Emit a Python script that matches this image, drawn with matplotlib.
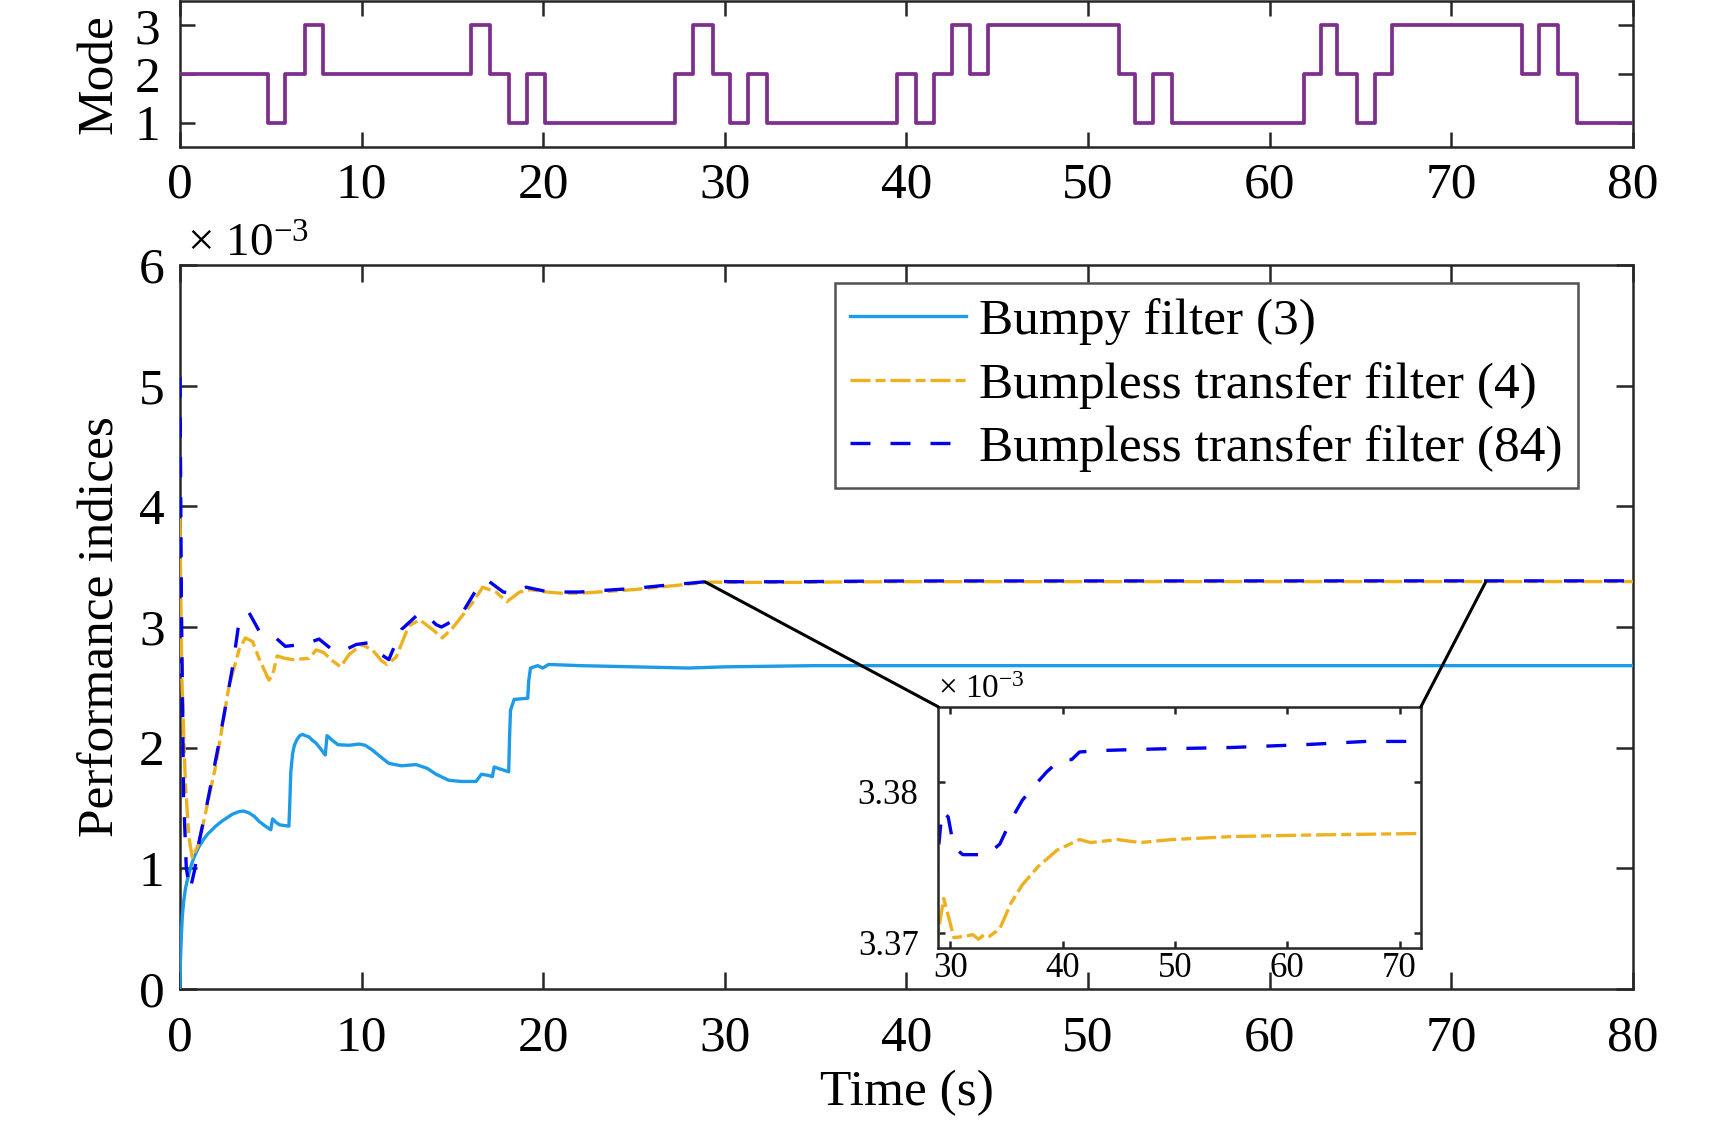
import matplotlib
matplotlib.use("Agg")
import matplotlib.pyplot as plt
import matplotlib.transforms as mtransforms
from matplotlib.patches import ConnectionPatch
import numpy as np

# ---- data (performance indices are in units of 1e-3) ----
mode_t = [0, 4.85, 5.8, 6.9, 7.9, 16.05, 17.05, 18.1, 19.1, 20.1, 27.25, 28.25, 29.35,
          30.3, 31.3, 32.3, 39.5, 40.55, 41.5, 42.5, 43.5, 44.5, 51.7, 52.6, 53.6,
          54.6, 61.9, 62.8, 63.7, 64.8, 65.8, 66.75, 73.9, 74.85, 75.9, 76.9, 80]
mode_val = [2, 1, 2, 3, 2, 3, 2, 1, 2, 1, 2, 3, 2,
            1, 2, 1, 2, 1, 2, 3, 2, 3, 2, 1, 2,
            1, 2, 3, 2, 1, 2, 3, 2, 3, 2, 1, 1]

bumpy_t = [0, 0.03, 0.08, 0.13, 0.2, 0.3, 0.4, 0.5, 0.65, 0.8, 1.05, 1.3, 1.5, 1.97,
           2.3, 2.6, 2.9, 3.25, 3.5, 3.8, 4.1, 4.35, 4.7, 5.0, 5.1, 5.3, 5.5, 6.0,
           6.05, 6.1, 6.2, 6.3, 6.45, 6.6, 6.74, 6.9, 7.1, 7.3, 7.48, 7.75, 8.0, 8.1,
           8.4, 8.7, 9.3, 9.87, 10.2, 10.6, 11.0, 11.5, 12.2, 13.0, 13.6, 14.1, 14.8,
           15.5, 16.1, 16.3, 16.6, 17.0, 17.2, 17.3, 17.7, 18.1, 18.15, 18.2, 18.4,
           19.15, 19.2, 19.3, 19.7, 19.97, 20.3, 22, 25, 28, 30, 35, 40, 50, 80]
bumpy_val = [0, 0.25, 0.45, 0.6, 0.72, 0.83, 0.9, 0.96, 1.04, 1.1, 1.18, 1.24, 1.28,
             1.35, 1.39, 1.42, 1.45, 1.47, 1.475, 1.46, 1.43, 1.39, 1.35, 1.32, 1.41,
             1.38, 1.36, 1.35, 1.55, 1.79, 1.95, 2.02, 2.07, 2.10, 2.11, 2.10, 2.09,
             2.06, 2.04, 1.99, 1.94, 2.10, 2.06, 2.025, 2.02, 2.03, 2.02, 1.98, 1.93,
             1.87, 1.85, 1.86, 1.83, 1.78, 1.73, 1.72, 1.72, 1.72, 1.78, 1.77, 1.76,
             1.84, 1.82, 1.80, 2.1, 2.31, 2.40, 2.41, 2.55, 2.66, 2.68, 2.66, 2.69,
             2.68, 2.67, 2.66, 2.67, 2.68, 2.68, 2.68, 2.68]

bt4_t = [0, 0.1, 0.3, 0.5, 0.68, 1.05, 1.97, 2.7, 3.25, 3.6, 4.0, 4.35, 4.9, 5.1,
         5.35, 5.8, 6.2, 7.1, 7.5, 7.9, 8.4, 8.85, 9.3, 10.0, 10.6, 11.1, 11.4, 11.9,
         12.6, 13.2, 13.9, 14.45, 15.0, 16.1, 16.67, 17.4, 18.0, 18.7, 19.3, 20.2,
         21, 22, 23, 25, 27, 28.3, 28.9, 29.4, 29.9, 30.3, 31.3, 32.0, 32.5, 33.0,
         33.5, 34.4, 35.4, 36.4, 37.8, 39.5, 41.5, 42.5, 44.9, 46.9, 49.7, 55.1,
         61.9, 71.8, 80]
bt4_val = [3.9, 2.6, 1.7, 1.25, 1.09, 1.21, 1.85, 2.51, 2.81, 2.91, 2.88, 2.74, 2.56,
           2.60, 2.76, 2.74, 2.73, 2.74, 2.81, 2.79, 2.72, 2.67, 2.77, 2.855, 2.81,
           2.72, 2.69, 2.75, 3.01, 3.06, 2.98, 2.91, 2.99, 3.20, 3.33, 3.29, 3.21,
           3.29, 3.31, 3.29, 3.28, 3.28, 3.29, 3.31, 3.34, 3.36, 3.3700, 3.3723,
           3.3709, 3.3697, 3.3698, 3.3699, 3.3696, 3.3699, 3.3698, 3.3703, 3.3720,
           3.3732, 3.3744, 3.3755, 3.3762, 3.3760, 3.3762, 3.3760, 3.3762, 3.3764,
           3.3765, 3.3766, 3.3766]

bt84_t = [0, 0.08, 0.2, 0.35, 0.55, 0.8, 1.05, 1.5, 2.15, 2.9, 3.25, 3.8, 4.35, 5.2,
          5.8, 6.4, 7.1, 7.66, 8.4, 8.95, 9.7, 10.4, 11.1, 11.5, 12.2, 13.0, 13.5,
          14.1, 14.4, 15.0, 15.56, 16.2, 16.67, 17.0, 17.8, 18.3, 19.06, 20, 21, 22,
          23, 25, 27, 28.3, 28.9, 29.25, 29.8, 30.3, 31.1, 33.3, 34.4, 35.4, 36.4,
          37.4, 38.6, 39.8, 40.8, 41.5, 43.5, 48.3, 55.1, 61.9, 67.0, 70.9, 80]
bt84_val = [5.07, 3.2, 1.6, 1.0, 0.82, 0.98, 1.22, 1.54, 2.04, 2.67, 3.04, 3.12, 2.97,
            2.92, 2.84, 2.85, 2.87, 2.90, 2.81, 2.80, 2.855, 2.87, 2.77, 2.73, 2.98,
            3.09, 3.11, 3.02, 3.0, 3.05, 3.12, 3.28, 3.37, 3.38, 3.29, 3.28, 3.33,
            3.30, 3.29, 3.29, 3.30, 3.32, 3.35, 3.366, 3.3753, 3.3781, 3.3777, 3.3757,
            3.3752, 3.3752, 3.3759, 3.3775, 3.3788, 3.3797, 3.3807, 3.3815, 3.3815,
            3.3820, 3.3821, 3.3822, 3.3823, 3.3825, 3.3827, 3.3827, 3.3828]

labels = ['Bumpy filter (3)', 'Bumpless transfer filter (4)',
          'Bumpless transfer filter (84)']

# ---- style ----
plt.rcParams['font.family'] = 'Liberation Serif'
plt.rcParams['mathtext.fontset'] = 'custom'
plt.rcParams['mathtext.rm'] = 'Liberation Serif'
plt.rcParams['mathtext.it'] = 'Liberation Serif:italic'
plt.rcParams['axes.linewidth'] = 1.8
plt.rcParams['axes.edgecolor'] = '#262626'

FS = 37
c_bumpy = '#1E9BE8'
c_bt4 = '#EDB120'
c_bt84 = '#0000F0'
c_mode = '#7E2F8E'
lw = 2.4
ls_bt4 = (0, (6, 1.5, 3, 1.5))
ls_bt84 = (0, (6, 6))

fig = plt.figure(figsize=(17.32, 11.23), dpi=100)

def style(ax, size, ticklen, xpad, ypad):
    ax.tick_params(direction='in', top=True, right=True, labelsize=size,
                   length=ticklen, width=1.8, color='#262626')
    ax.tick_params(axis='x', pad=xpad)
    ax.tick_params(axis='y', pad=ypad)

# top panel: mode
ax_m = fig.add_axes([0.1039, 0.8691, 0.8389, 0.1300])
ax_m.plot(mode_t, mode_val, drawstyle='steps-post', color=c_mode, lw=2.7, zorder=3)
ax_m.set_xlim(0, 80)
ax_m.set_ylim(0.5, 3.5)
ax_m.set_xticks(np.arange(0, 81, 10))
ax_m.set_yticks([1, 2, 3])
style(ax_m, FS, 11, 11, 14)
ax_m.set_ylabel('Mode', fontsize=FS)
ax_m.yaxis.set_label_coords(-0.039, 0.5)

# main panel
ax = fig.add_axes([0.1039, 0.1193, 0.8389, 0.6447])
ax.plot(bumpy_t, bumpy_val, color=c_bumpy, lw=lw, label=labels[0], zorder=3)
ax.plot(bt4_t, bt4_val, color=c_bt4, lw=lw, ls=ls_bt4, label=labels[1], zorder=3)
ax.plot(bt84_t, bt84_val, color=c_bt84, lw=lw, ls=ls_bt84, label=labels[2], zorder=3)
ax.set_xlim(0, 80)
ax.set_ylim(0, 6)
ax.set_xticks(np.arange(0, 81, 10))
ax.set_yticks(np.arange(0, 7, 1))
style(ax, FS, 12, 19, 11)
ax.set_xlabel('Time (s)', fontsize=FS)
ax.xaxis.set_label_coords(0.5, -0.112)
ax.set_ylabel('Performance indices', fontsize=FS)
ax.yaxis.set_label_coords(-0.038, 0.5)
ax.text(0.005, 1.012, r'$\times$ 10$^{-3}$', transform=ax.transAxes,
        fontsize=34, ha='left', va='baseline')

leg = ax.legend(loc='upper right', bbox_to_anchor=(0.911, 0.748),
                bbox_transform=fig.transFigure, fontsize=FS, frameon=True,
                fancybox=False, edgecolor='#262626', handlelength=2.25,
                handletextpad=0.25, labelspacing=0.32, borderpad=0.3,
                borderaxespad=0)
leg.get_frame().set_linewidth(1.8)

# inset
ax_in = fig.add_axes([0.5416, 0.1556, 0.2788, 0.2151])
ax_in.plot(bt4_t, bt4_val, color=c_bt4, lw=lw, ls=ls_bt4)
ax_in.plot(bt84_t, bt84_val, color=c_bt84, lw=lw, ls=ls_bt84)
in_xlim = (28.9, 71.9)
ax_in.set_xlim(*in_xlim)
ax_in.set_ylim(3.369, 3.385)
ax_in.set_xticks([30, 40, 50, 60, 70])
ax_in.set_yticks([3.37, 3.38])
ax_in.set_yticklabels(['3.37', '3.38'])
style(ax_in, 25, 5, 3, 14)
shift = mtransforms.ScaledTranslation(0, -7 / 72, fig.dpi_scale_trans)
for lab in ax_in.get_yticklabels():
    lab.set_transform(lab.get_transform() + shift)
ax_in.text(0.0, 1.037, r'$\times$ 10$^{-3}$', transform=ax_in.transAxes,
           fontsize=24, ha='left', va='baseline')

y_link = 3.375
for xa, xb in [(in_xlim[0], 0), (in_xlim[1], 1)]:
    con = ConnectionPatch(xyA=(xa, y_link), coordsA=ax.transData,
                          xyB=(xb, 1), coordsB=ax_in.transAxes,
                          color='black', lw=2.2)
    fig.add_artist(con)

fig.savefig('out.png', dpi=100)
